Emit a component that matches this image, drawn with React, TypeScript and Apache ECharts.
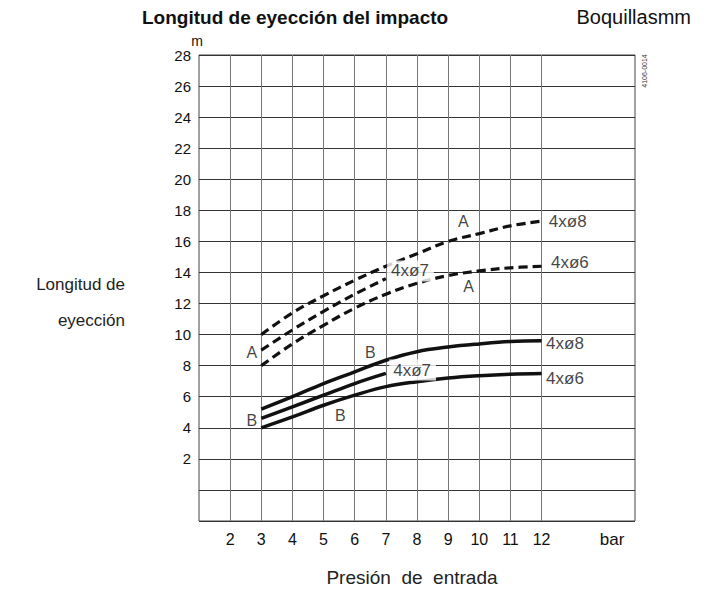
import React, { useEffect, useRef } from "react";
import * as echarts from "echarts";

// ---- data ----
const pressure = [3, 4, 5, 6, 7, 8, 9, 10, 11, 12];
const pressureShort = [3, 4, 5, 6, 7];

const a8 = [10.0, 11.4, 12.5, 13.5, 14.4, 15.2, 16.0, 16.5, 17.0, 17.3];
const a7 = [9.0, 10.3, 11.5, 12.6, 13.6];
const a6 = [8.0, 9.4, 10.6, 11.7, 12.6, 13.3, 13.8, 14.1, 14.3, 14.4];

const b8 = [5.2, 6.0, 6.85, 7.6, 8.35, 8.9, 9.2, 9.4, 9.55, 9.6];
const b7 = [4.6, 5.35, 6.1, 6.85, 7.5];
const b6 = [4.0, 4.7, 5.45, 6.1, 6.65, 6.97, 7.2, 7.35, 7.45, 7.5];

const xGridLines = [2, 3, 4, 5, 6, 7, 8, 9, 10, 11, 12];
const xTickLabels = [2, 3, 4, 5, 6, 7, 8, 9, 10, 11, 12];
const yTickLabels = [2, 4, 6, 8, 10, 12, 14, 16, 18, 20, 22, 24, 26, 28];

// annotation labels: [text, x (bar), y (m), whiteBackground]
const annotations: [string, number, number, boolean][] = [
  ["4xø8", 12.84, 17.25, false],
  ["4xø6", 12.91, 14.61, false],
  ["4xø7", 7.79, 14.1, true],
  ["A", 9.49, 17.27, false],
  ["A", 9.66, 13.07, false],
  ["A", 2.7, 8.82, false],
  ["B", 6.5, 8.84, false],
  ["B", 2.7, 4.5, false],
  ["B", 5.54, 4.82, false],
  ["4xø8", 12.75, 9.4, false],
  ["4xø7", 7.86, 7.72, true],
  ["4xø6", 12.75, 7.2, false],
];

const FONT = "'Liberation Sans', Arial, Helvetica, sans-serif";

function zip(xs: number[], ys: number[]) {
  return xs.map((x, i) => [x, ys[i]]);
}

export default function App() {
  const ref = useRef<HTMLDivElement>(null);

  useEffect(() => {
    if (!ref.current) return;
    const chart = echarts.init(ref.current, undefined, { renderer: "svg" });

    const dashed = { color: "#111", width: 3.2, type: [9, 5] as any };
    const solid = { color: "#111", width: 3.5, type: "solid" as any };

    const lineSeries = (name: string, xs: number[], ys: number[], style: any) => ({
      name,
      type: "line",
      smooth: 0.4,
      symbol: "none",
      data: zip(xs, ys),
      lineStyle: style,
      z: 5,
    });

    chart.setOption({
      animation: false,
      grid: {
        left: 199,
        top: 55,
        right: 73,
        bottom: 77,
        show: true,
        borderColor: "#444",
        borderWidth: 1,
        backgroundColor: "transparent",
      },
      xAxis: {
        type: "value",
        min: 1,
        max: 15,
        interval: 1,
        axisLine: { show: false },
        axisTick: { show: false },
        splitLine: { show: false },
        axisLabel: {
          margin: 10,
          fontSize: 16,
          fontFamily: FONT,
          color: "#111",
          formatter: (v: number) => (xTickLabels.includes(v) ? String(v) : ""),
        },
      },
      yAxis: {
        type: "value",
        min: -2,
        max: 28,
        interval: 2,
        name: "m",
        nameLocation: "end",
        nameGap: 7,
        nameTextStyle: { fontSize: 14, fontFamily: FONT, color: "#111", padding: [0, 4, 0, 0] },
        axisLine: { show: false },
        axisTick: { show: false },
        splitLine: { show: true, lineStyle: { color: "#333", width: 1 } },
        axisLabel: {
          margin: 8,
          fontSize: 15,
          fontFamily: FONT,
          color: "#111",
          formatter: (v: number) => (yTickLabels.includes(v) ? String(v) : ""),
        },
      },
      series: [
        {
          type: "line",
          data: [],
          markLine: {
            silent: true,
            symbol: "none",
            label: { show: false },
            lineStyle: { color: "#777", width: 1, type: "solid" },
            data: xGridLines.map((v) => ({ xAxis: v })),
          },
        },
        lineSeries("A 4xø8", pressure, a8, dashed),
        lineSeries("A 4xø7", pressureShort, a7, dashed),
        lineSeries("A 4xø6", pressure, a6, dashed),
        lineSeries("B 4xø8", pressure, b8, solid),
        lineSeries("B 4xø7", pressureShort, b7, solid),
        lineSeries("B 4xø6", pressure, b6, solid),
        {
          type: "scatter",
          symbolSize: 0,
          z: 10,
          data: annotations.map(([t, x, y, bg]) => ({
            name: t,
            value: [x, y],
            label: {
              fontSize: t.length > 1 ? 17 : 16,
              ...(bg ? { backgroundColor: "#fff", padding: [2, 5, 2, 4] } : {}),
            },
          })),
          label: {
            show: true,
            position: "inside",
            formatter: (p: any) => p.name,
            fontSize: 16,
            fontFamily: FONT,
            color: "#111",
          },
        },
      ],
      graphic: [
        {
          type: "text",
          x: 142,
          y: 17,
          style: {
            text: "Longitud de eyección del impacto",
            fontSize: 19,
            fontWeight: "bold",
            fontFamily: FONT,
            fill: "#111",
            verticalAlign: "middle",
          },
        },
        {
          type: "text",
          x: 691,
          y: 17,
          style: {
            text: "Boquillasmm",
            fontSize: 20,
            fontFamily: FONT,
            fill: "#111",
            align: "right",
            verticalAlign: "middle",
          },
        },
        {
          type: "text",
          x: 125,
          y: 284,
          style: {
            text: "Longitud de",
            fontSize: 17,
            fontFamily: FONT,
            fill: "#222",
            align: "right",
            verticalAlign: "middle",
          },
        },
        {
          type: "text",
          x: 125,
          y: 320,
          style: {
            text: "eyección",
            fontSize: 17,
            fontFamily: FONT,
            fill: "#222",
            align: "right",
            verticalAlign: "middle",
          },
        },
        {
          type: "text",
          x: 412,
          y: 577,
          style: {
            text: "Presión  de  entrada",
            fontSize: 19,
            fontFamily: FONT,
            fill: "#222",
            align: "center",
            verticalAlign: "middle",
          },
        },
        {
          type: "text",
          x: 612,
          y: 539,
          style: {
            text: "bar",
            fontSize: 17,
            fontFamily: FONT,
            fill: "#111",
            align: "center",
            verticalAlign: "middle",
          },
        },
        {
          type: "text",
          x: 644,
          y: 71,
          rotation: Math.PI / 2,
          style: {
            text: "4106-0014",
            fontSize: 7,
            fontFamily: FONT,
            fill: "#333",
            align: "center",
            verticalAlign: "middle",
          },
        },
      ],
    });

    return () => chart.dispose();
  }, []);

  return (
    <div
      ref={ref}
      style={{ position: "fixed", left: 0, top: 0, width: 708, height: 598, background: "#fff" }}
    />
  );
}
